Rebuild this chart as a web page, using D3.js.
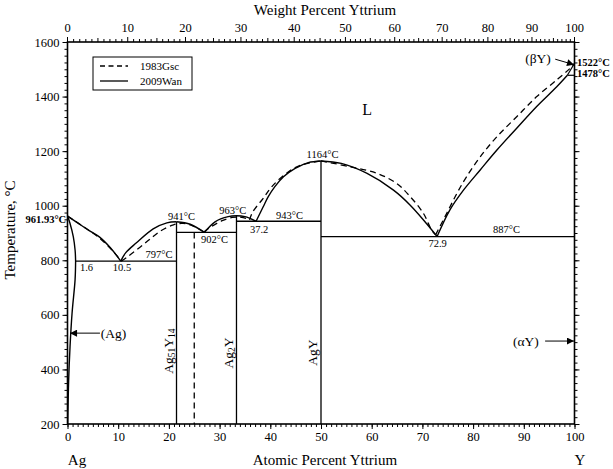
<!DOCTYPE html>
<html><head><meta charset="utf-8">
<script src="https://cdn.jsdelivr.net/npm/d3@7"></script>
<style>
html,body{margin:0;padding:0;background:#fff;}
text{font-family:"Liberation Serif","Times New Roman",serif;fill:#000;}
</style></head>
<body><svg id="c" width="613" height="469"></svg>
<script>
// ---------- data ----------
const tempTicks = [200,400,600,800,1000,1200,1400,1600];
const atTicks = [0,10,20,30,40,50,60,70,80,90,100];
const wtTicks = [0,10,20,30,40,50,60,70,80,90,100];
const seriesNames = ["1983Gsc","2009Wan"];
const massAg = 107.868, massY = 88.906;

// 2009Wan (solid) boundaries  [at.% Y, °C]
const wanLiqAg   = [[0,961.93],[2,937],[4,912],[6.4,884],[8.5,845],[10.5,797]];
const wanSolidusAg = [[0,961.93],[0.5,935],[1.15,886],[1.5,837],[1.6,797]];
const wanSolvusAg  = [[1.6,797],[1.5,730],[0.9,606],[0.5,483],[0.23,361],[0.05,200]];
const wanLiq1 = [[10.5,797],[11.5,828],[13.6,864],[16.9,915],[19.6,937],[21.5,941]];
const wanLiq2 = [[21.5,941],[24.2,932],[27,902]];
const wanLiq3 = [[27,902],[29.1,941],[31.7,960],[33.33,963],[35,960],[37.2,943]];
const wanLiq4 = [[37.2,943],[38.6,996],[39.6,1033],[40.9,1070],[42.6,1106],[44.9,1137],[47.5,1158],[50,1164]];
const wanLiq5 = [[50,1164],[54,1155],[59,1119],[64.3,1057],[67.6,1002],[70.8,935],[72.9,887]];
const wanLiq6 = [[72.9,887],[75.4,984],[78.1,1057],[81.4,1131],[84.7,1204],[88.6,1284],[92.5,1363],[96.5,1436],[98.6,1478]];
const wanBetaY1 = [[98.6,1478],[100,1522]];
const wanBetaY2 = [[98.6,1478],[100,1478]];
// invariant lines: [from at.%, to at.%, °C]
const wanHoriz = [[1.6,21.5,797],[21.5,33.33,902],[33.33,50,943],[50,100,887]];
// compounds: [at.%, top °C]
const wanCompounds = [[21.5,941],[33.33,963],[50,1164]];

// 1983Gsc (dashed) boundaries
const gscLiqAg = [[0,961.93],[3,925],[6,886],[9,833],[10.6,797]];
const gscLiq1 = [[10.6,797],[12,815],[14.3,848],[16.3,878],[18.4,908],[20.9,930],[22.8,935],[24.8,925],[26.9,904]];
const gscLiq2 = [[26.9,904],[28.5,925],[30.5,945],[32.5,957],[34,958],[35.2,954],[35.9,948]];
const gscLiq3 = [[35.9,948],[36.5,976],[38.6,1027],[40.4,1072],[43.4,1122],[46.1,1149],[50,1164]];
const gscLiq4 = [[50,1164],[55.7,1143],[61,1119],[64.9,1082],[67.6,1033],[70.2,972],[71.8,911],[72.6,893]];
const gscLiq5 = [[72.6,893],[73.1,911],[74.8,972],[76.8,1045],[78.7,1106],[81.4,1179],[84.7,1253],[88.6,1326],[92.5,1399],[96.5,1461],[99.1,1503],[100,1522]];
const gscCompounds = [[25,902]];

// ---------- drawing ----------
const svg = d3.select("#c");
const x = d3.scaleLinear().domain([0,100]).range([67.5,574.5]);
const y = d3.scaleLinear().domain([200,1600]).range([424,42]);
const wt2at = w => { const a=w/massY, b=(100-w)/massAg; return a+b===0?0:100*a/(a+b); };
const fmt = d3.format("d");

// axes
const axB = svg.append("g").attr("transform",`translate(0,${y(200)})`)
  .call(d3.axisBottom(x).tickValues(atTicks).tickFormat(fmt).tickSize(5).tickSizeOuter(0).tickPadding(3));
svg.append("g").attr("transform",`translate(0,${y(200)})`)
  .call(d3.axisBottom(x).tickValues(d3.range(0,101,1)).tickSize(3).tickSizeOuter(0).tickFormat(""));
const axL = svg.append("g").attr("transform",`translate(${x(0)},0)`)
  .call(d3.axisLeft(y).tickValues(tempTicks).tickFormat(fmt).tickSize(5).tickSizeOuter(0).tickPadding(3));
svg.append("g").attr("transform",`translate(${x(0)},0)`)
  .call(d3.axisLeft(y).tickValues(d3.range(200,1601,25)).tickSize(3).tickSizeOuter(0).tickFormat(""));
svg.append("g").attr("transform",`translate(${x(100)},0)`)
  .call(d3.axisRight(y).tickValues(tempTicks).tickSize(5).tickSizeOuter(0).tickFormat(""));
svg.append("g").attr("transform",`translate(${x(100)},0)`)
  .call(d3.axisRight(y).tickValues(d3.range(200,1601,25)).tickSize(3).tickSizeOuter(0).tickFormat(""));
// top axis (weight percent, nonlinear)
const gT = svg.append("g");
gT.selectAll("line.mi").data(d3.range(0,101,1)).join("line")
  .attr("x1",d=>x(wt2at(d))).attr("x2",d=>x(wt2at(d)))
  .attr("y1",y(1600)).attr("y2",d=> y(1600) - (d%10===0?5:(d%5===0?4:3)))
  .attr("stroke","#000").attr("stroke-width",1);
gT.selectAll("text").data(wtTicks).join("text")
  .attr("x",d=>x(wt2at(d))).attr("y",y(1600)-14)
  .attr("text-anchor","middle").attr("dominant-baseline","central")
  .attr("font-size",12.5).text(d=>d);

svg.selectAll(".domain").remove();
svg.selectAll(".tick line").attr("stroke","#000").attr("stroke-width",1);
svg.selectAll(".tick text").attr("font-size",12.5).attr("font-family",'"Liberation Serif",serif').attr("fill","#000");
axB.selectAll(".tick text").attr("dy","0.75em");

// frame
svg.append("rect").attr("x",x(0)).attr("y",y(1600)).attr("width",x(100)-x(0)).attr("height",y(200)-y(1600))
  .attr("fill","none").attr("stroke","#000").attr("stroke-width",1.6);

// lines
const g = svg.append("g");
const line = d3.line().x(d=>x(d[0])).y(d=>y(d[1])).curve(d3.curveCatmullRom.alpha(0.5));
const straight = d3.line().x(d=>x(d[0])).y(d=>y(d[1]));
const solidCurves = [wanLiqAg,wanSolidusAg,wanSolvusAg,wanLiq1,wanLiq2,wanLiq3,wanLiq4,wanLiq5,wanLiq6];
const dashCurves = [gscLiqAg,gscLiq1,gscLiq2,gscLiq3,gscLiq4,gscLiq5];
g.selectAll("path.w").data(solidCurves).join("path").attr("class","w")
  .attr("d",line).attr("fill","none").attr("stroke","#000").attr("stroke-width",1.4);
g.selectAll("path.b").data([wanBetaY1,wanBetaY2]).join("path").attr("class","b")
  .attr("d",straight).attr("fill","none").attr("stroke","#000").attr("stroke-width",1.2);
g.selectAll("path.g").data(dashCurves).join("path").attr("class","g")
  .attr("d",line).attr("fill","none").attr("stroke","#000").attr("stroke-width",1.3).attr("stroke-dasharray","6,4");
g.selectAll("line.h").data(wanHoriz).join("line").attr("class","h")
  .attr("x1",d=>x(d[0])).attr("x2",d=>x(d[1])).attr("y1",d=>y(d[2])).attr("y2",d=>y(d[2]))
  .attr("stroke","#000").attr("stroke-width",1.3);
g.selectAll("line.v").data(wanCompounds).join("line").attr("class","v")
  .attr("x1",d=>x(d[0])).attr("x2",d=>x(d[0])).attr("y1",d=>y(d[1])).attr("y2",y(200))
  .attr("stroke","#000").attr("stroke-width",1.3);
g.selectAll("line.vd").data(gscCompounds).join("line").attr("class","vd")
  .attr("x1",d=>x(d[0])).attr("x2",d=>x(d[0])).attr("y1",d=>y(d[1])).attr("y2",y(200))
  .attr("stroke","#000").attr("stroke-width",1.3).attr("stroke-dasharray","6,4");

// annotations
function lab(t,a,T,opt={}){
  const e = svg.append("text").attr("x",x(a)).attr("y",y(T))
    .attr("text-anchor",opt.anchor||"middle").attr("dominant-baseline","central")
    .attr("font-size",opt.size||10.5).text(t);
  if(opt.bold) e.attr("font-weight","bold");
  return e;
}
lab("961.93°C",-0.25,950,{anchor:"end",bold:true,size:10.5});
lab("941°C",22.5,961);
lab("963°C",32.6,984);
lab("902°C",29.0,876);
lab("37.2",37.8,913);
lab("943°C",43.8,964);
lab("1164°C",50.3,1186);
lab("797°C",18.05,823);
lab("1.6",3.75,772);
lab("10.5",10.75,772);
lab("72.9",73.0,860);
lab("887°C",86.6,913);
lab("L",59.1,1351,{size:16});
lab("1522°C",100.5,1525,{anchor:"start",bold:true,size:10.5});
lab("1478°C",100.5,1485,{anchor:"start",bold:true,size:10.5});
lab("(βY)",92.8,1541,{size:13.5});
lab("(αY)",90.4,504,{size:13.5});
lab("(Ag)",9.07,533,{size:13.5});

// arrows
const defs = svg.append("defs");
defs.append("marker").attr("id","ah").attr("viewBox","0 0 10 10").attr("refX",10).attr("refY",5)
  .attr("markerWidth",9).attr("markerHeight",7).attr("markerUnits","userSpaceOnUse").attr("orient","auto")
  .append("path").attr("d","M0,0L10,5L0,10z").attr("fill","#000");
function arrow(a1,T1,a2,T2){
  svg.append("line").attr("x1",x(a1)).attr("y1",y(T1)).attr("x2",x(a2)).attr("y2",y(T2))
    .attr("stroke","#000").attr("stroke-width",1).attr("marker-end","url(#ah)");
}
arrow(6.4,533,0.5,533);
arrow(94.2,504,99.9,504);
arrow(96.2,1537,99.9,1517);

// compound labels (rotated)
function comp(parts,a,T){
  const t = svg.append("text").attr("transform",`translate(${x(a)},${y(T)}) rotate(-90)`)
    .attr("text-anchor","middle").attr("dominant-baseline","central").attr("font-size",13.5);
  parts.forEach(p=>{
    const s = t.append("tspan").text(p[0]);
    if(p[1]==="sub") s.attr("font-size",9.5).attr("dy",4);
    else if(p[1]==="up") s.attr("dy",-4);
  });
}
comp([["Ag"],["51","sub"],["Y","up"],["14","sub"]],19.8,467);
comp([["Ag"],["2","sub"],["Y","up"]],31.6,460);
comp([["AgY"]],48.2,462);

// legend
const lg = svg.append("g");
lg.append("rect").attr("x",93).attr("y",57).attr("width",99).attr("height",33)
  .attr("fill","#fff").attr("stroke","#000").attr("stroke-width",1);
lg.selectAll("line").data(seriesNames).join("line")
  .attr("x1",100).attr("x2",128).attr("y1",(d,i)=>66+i*15).attr("y2",(d,i)=>66+i*15)
  .attr("stroke","#000").attr("stroke-width",1.3).attr("stroke-dasharray",(d,i)=>i===0?"5,3.5":null);
lg.selectAll("text").data(seriesNames).join("text")
  .attr("x",140).attr("y",(d,i)=>66+i*15).attr("dominant-baseline","central")
  .attr("font-size",11).text(d=>d);

// axis titles
svg.append("text").attr("x",325).attr("y",10).attr("text-anchor","middle").attr("dominant-baseline","central")
  .attr("font-size",15).text("Weight Percent Yttrium");
svg.append("text").attr("x",325).attr("y",460).attr("text-anchor","middle").attr("dominant-baseline","central")
  .attr("font-size",15).text("Atomic Percent Yttrium");
svg.append("text").attr("x",77).attr("y",460).attr("text-anchor","middle").attr("dominant-baseline","central")
  .attr("font-size",15).text("Ag");
svg.append("text").attr("x",580).attr("y",460).attr("text-anchor","middle").attr("dominant-baseline","central")
  .attr("font-size",15).text("Y");
svg.append("text").attr("transform","translate(10,230) rotate(-90)").attr("text-anchor","middle")
  .attr("dominant-baseline","central").attr("font-size",15).text("Temperature, °C");
</script></body></html>
